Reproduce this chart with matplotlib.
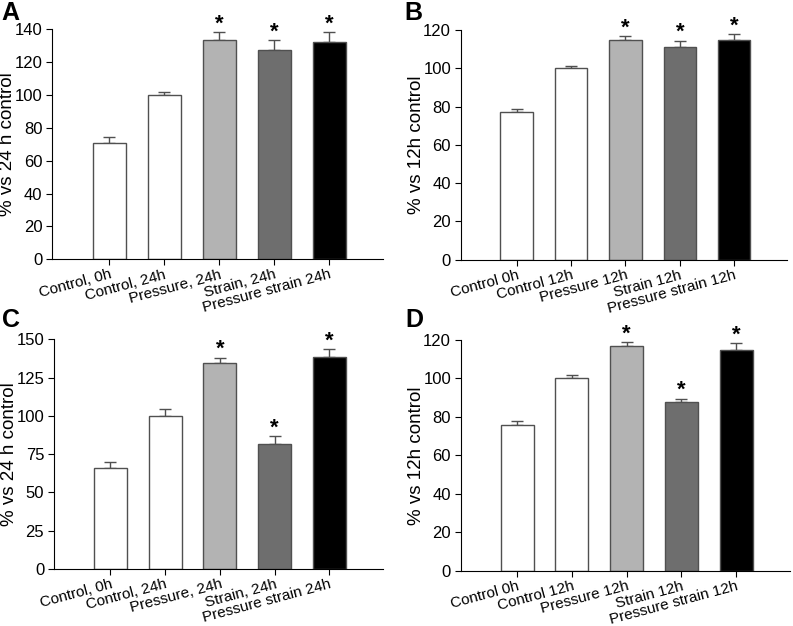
import numpy as np
from matplotlib import pyplot as plt

plt.rcParams['font.family'] = ['Liberation Sans', 'DejaVu Sans']

# Data
labels_24 = ["Control, 0h", "Control, 24h", "Pressure, 24h", "Strain, 24h", "Pressure strain 24h"]
labels_12 = ["Control 0h", "Control 12h", "Pressure 12h", "Strain 12h", "Pressure strain 12h"]

vals_A = [71, 100, 133.5, 127.5, 132.5]
err_A = [3.5, 2, 5, 6, 6]
star_A = [False, False, True, True, True]

vals_B = [77, 100, 115, 111, 115]
err_B = [2, 1.2, 2, 3.5, 3]
star_B = [False, False, True, True, True]

vals_C = [66, 100, 134.5, 81.5, 138.5]
err_C = [4, 4.5, 3.5, 5.5, 5]
star_C = [False, False, True, True, True]

vals_D = [76, 100, 117, 88, 115]
err_D = [2, 2, 2, 1.5, 3.5]
star_D = [False, False, True, True, True]

colors = ["white", "white", "#b3b3b3", "#6e6e6e", "black"]

fig = plt.figure(figsize=(7.93, 6.26), dpi=100)


def panel(rect, vals, errs, stars, labels, ylim, yticks, ylabel, letter, letter_xy):
    ax = fig.add_axes(rect)
    x = np.arange(1, len(vals) + 1)
    ax.bar(x, vals, width=0.6, color=colors, edgecolor="#505050", linewidth=1, zorder=2)
    ax.errorbar(x, vals, yerr=[np.zeros(len(errs)), errs], fmt="none",
                ecolor="#505050", elinewidth=1, capsize=4, capthick=1, zorder=1)
    step = ylim[1] / 140.0
    for xi, v, e, s in zip(x, vals, errs, stars):
        if s:
            ax.text(xi, v + e - 1.5 * step, "*", ha="center", va="bottom",
                    fontsize=16, fontweight="bold")
    ax.set_xlim(-0.03, 5.98)
    ax.set_ylim(*ylim)
    ax.set_yticks(yticks)
    ax.set_xticks(x)
    ax.set_xticklabels(labels, rotation=15, ha="right", rotation_mode="anchor", fontsize=11)
    ax.tick_params(axis="y", labelsize=12, direction="out", length=4, pad=3)
    ax.tick_params(axis="x", direction="out", length=4, pad=2)
    for sp in ["top", "right"]:
        ax.spines[sp].set_visible(False)
    ax.set_ylabel(ylabel, fontsize=13.5)
    ax.yaxis.set_label_coords(-0.11, 0.5)
    fig.text(letter_xy[0] / 793, 1 - letter_xy[1] / 626, letter, fontsize=18,
             fontweight="bold", va="center", ha="left")
    return ax


panel([0.066, 0.586, 0.417, 0.367], vals_A, err_A, star_A, labels_24,
      (0, 140), range(0, 141, 20), "% vs 24 h control", "A", (1, 13))
panel([0.581, 0.585, 0.412, 0.367], vals_B, err_B, star_B, labels_12,
      (0, 120), range(0, 121, 20), "% vs 12h control", "B", (404, 13))
panel([0.068, 0.091, 0.415, 0.367], vals_C, err_C, star_C, labels_24,
      (0, 150), range(0, 151, 25), "% vs 24 h control", "C", (2, 320))
panel([0.581, 0.088, 0.415, 0.369], vals_D, err_D, star_D, labels_12,
      (0, 120), range(0, 121, 20), "% vs 12h control", "D", (405, 320))

fig.savefig("out.png", dpi=100)
